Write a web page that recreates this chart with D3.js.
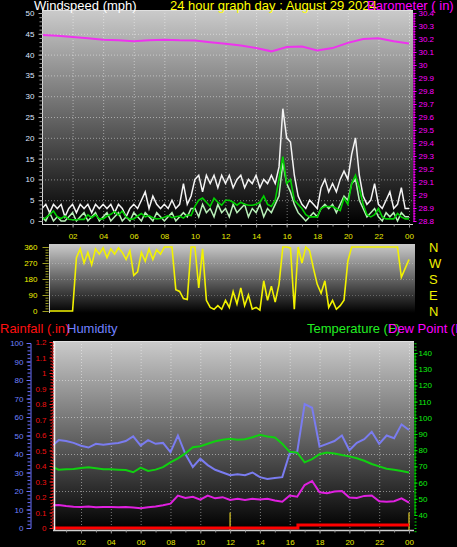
<!DOCTYPE html>
<html><head><meta charset="utf-8">
<script src="https://cdn.jsdelivr.net/npm/d3@7"></script>
<style>
html,body{margin:0;padding:0;background:#000;}
svg{display:block;font-family:"Liberation Sans",Arial,sans-serif;}
</style></head><body>
<svg id="c" width="457" height="547"></svg>
<script>
// ---------------- DATA ----------------
const hourTicks = [2,4,6,8,10,12,14,16,18,20,22,24];
// wind, 15-minute readings from 00:00 to 24:00 (mph)
const windGust = [3,4,2,4,3,4,1,3, 4,2,4,3,4,2,4,3, 4,3,4,2,4,3,1,3, 4,3,5,7,3,6,4,3,
  4,3,5,3,4,9,4,6, 10,11,7,11,9,11,8,11, 9,11,8,10,11,8,10,9, 11,8,10,9,11,9,13,27,
  20,19,11,6,4,3,5,4, 3,8,10,7,9,7,10,12, 10,16,20,11,6,4,5,9, 4,3,5,7,3,4,8,3, 3];
const windSpeed = [1,0,2,0,1,0,0,1, 2,0,1,2,0,1,2,0, 1,2,0,1,2,0,1,0, 2,1,0,2,1,0,2,1,
  0,1,2,0,1,2,1,3, 3,1,4,2,3,1,4,2, 3,1,4,2,3,4,1,3, 2,4,1,3,2,4,6,14,
  9,7,4,2,1,0,1,2, 1,3,4,3,4,2,4,6, 5,9,10,5,3,1,2,3, 1,0,2,1,2,0,2,1, 1];
const windAvg = [0.3,0.8,1.5,2.4,1.0,0.6,1.2,0.4, 0.3,0.3,0.4,0.4,1.5,0.8,1.5,0.5,
  0.5,1.2,1.6,2.3,1.4,2.4,1.0,0.4, 0.5,1.2,1.8,1.0,1.3,0.8,0.5,0.6,
  0.9,1.3,0.8,1.0,1.2,0.7,1.5,1.3, 3.5,5.0,5.5,4.5,3.5,5.5,4.5,3.8,
  5.0,5.0,4.5,3.8,4.5,4.0,3.8,3.8, 4.0,4.5,6.0,4.0,3.5,5.0,10.0,15.5,
  9.0,10.0,5.0,4.0,3.0,1.5,1.0,1.0, 1.0,3.0,3.5,3.5,3.5,3.0,2.5,5.5,
  4.0,9.0,11.0,8.0,4.0,1.5,1.0,1.5, 3.0,1.0,0.5,0.5,0.5,1.8,1.0,0.5, 0.5];
// barometer, hourly (in)
const barometer = [30.23,30.225,30.215,30.205,30.195,30.19,30.183,30.19,30.195,30.19,30.188,30.175,
  30.163,30.15,30.13,30.105,30.138,30.142,30.112,30.13,30.17,30.2,30.205,30.183,30.165];
// wind direction, 15-minute readings (degrees)
const windDir = [0,0,0,0,0,0,0,0, 0,300,350,270,330,260,350,320, 355,300,350,320,355,330,290,340,
  200,220,330,280,350,290,345,320, 360,360,360,120,110,70,65,360, 360,130,350,60,20,10,30,10,
  60,20,110,40,130,30,90,10, 20,5,170,60,140,50,150,360, 360,355,10,360,270,360,340,240,
  150,100,170,20,60,10,30,60, 280,360,360,360,360,360,360,360, 360,360,360,360,360,360,190,240, 290];
// half-hourly readings 00:00 .. 24:00
const humidity = [44,47.5,47,46,44.5,43.5,45.5,45,45.5,46,47,49.5,44.5,47.5,45.5,46,41,50,40,33,37.5,34,31.5,30,
  28.5,29,28.5,30,27.5,26.5,27,27.5,40.5,41,67,65,44,45.5,47,50,42,46,48,52,45.5,50,48.5,56,53];
const temperature = [70,68,68.2,68.4,69,69.4,68.8,68.2,68.3,68,67.8,66.4,69.2,67.2,68,69.5,72.5,75,78,81.8,82.5,84,85.5,86.5,
  87,86.5,86.8,88,89.5,88.5,87.8,84,79,78.5,72.5,74.5,77.5,78.5,78,77,76.2,75,73.5,71.5,70,68.6,68,67.2,66.2];
const dewPoint = [46,46.2,45.5,45.1,45,45.2,44.8,45,45,44.8,45,44.6,44.1,44.8,45.2,46,47,52,50.5,51.3,49.5,52,50.3,51,
  49.3,50,49.3,50,49.5,50,49,48.2,52,51.3,58.5,61,54,53.4,54.5,54.8,50.8,50.5,51.8,52,48.5,48.2,48.5,50.3,47.6];
const rainHours = [0, 16.55, 24];
const rainTotal = [0, 0.02, 0.02];
const markerHours = [12, 24];
const markerRain = [0.1, 0.1];

// ---------------- CHART ----------------
const svg = d3.select("#c");
const defs = svg.append("defs");
const g0 = defs.append("linearGradient").attr("id","bg").attr("x1",0).attr("y1",0).attr("x2",0).attr("y2",1);
g0.append("stop").attr("offset",0).attr("stop-color","#cbcbcb");
g0.append("stop").attr("offset",1).attr("stop-color","#000000");
function clip(id,x,y,w,h){defs.append("clipPath").attr("id",id).append("rect").attr("x",x).attr("y",y).attr("width",w).attr("height",h);}

const fmtHour = h => h===24 ? "00" : String(h).padStart(2,"0");
function styleAxis(sel, col, txt, fs){
  sel.select(".domain").attr("stroke",col);
  sel.selectAll(".tick line").attr("stroke",col);
  sel.selectAll("text").attr("fill",txt).attr("font-size",fs||8).attr("font-family","'Liberation Sans',Arial,sans-serif");
}
const gridStyle = s => s.attr("stroke","rgba(255,255,255,0.45)").attr("stroke-dasharray","1,2").attr("stroke-width",1);

// ===== TOP PANEL =====
const T = {x0:42, x1:413, y0:10, y1:224};
const xTop = d3.scaleLinear().domain([0,24]).range([42,409]);
const yWind = d3.scaleLinear().domain([0,50]).range([221,13]);
const yBaro = d3.scaleLinear().domain([28.8,30.4]).range([221,13]);
svg.append("rect").attr("x",T.x0).attr("y",T.y0).attr("width",T.x1-T.x0).attr("height",T.y1-T.y0).attr("fill","url(#bg)");
clip("ct",T.x0,T.y0,T.x1-T.x0,T.y1-T.y0);
const gt = svg.append("g").attr("clip-path","url(#ct)");
hourTicks.forEach(h=>gridStyle(gt.append("line").attr("x1",xTop(h)+0.5).attr("x2",xTop(h)+0.5).attr("y1",T.y0).attr("y2",T.y1)));
d3.range(5,50,5).forEach(v=>gridStyle(gt.append("line").attr("x1",T.x0).attr("x2",T.x1).attr("y1",yWind(v)+0.5).attr("y2",yWind(v)+0.5)));
const q = (i)=>i*0.25;
gt.append("path").datum(windGust).attr("fill","none").attr("stroke","#f4f4f4").attr("stroke-width",1.5)
  .attr("d",d3.line().x((d,i)=>xTop(q(i))).y(d=>yWind(d)));
gt.append("path").datum(windSpeed).attr("fill","none").attr("stroke","#b9f0b9").attr("stroke-width",1.5)
  .attr("d",d3.line().x((d,i)=>xTop(q(i))).y(d=>yWind(d)));
gt.append("path").datum(windAvg).attr("fill","none").attr("stroke","#00d000").attr("stroke-width",1.6)
  .attr("d",d3.line().x((d,i)=>xTop(q(i))).y(d=>yWind(d)));
gt.append("path").datum(barometer).attr("fill","none").attr("stroke","#ee33ee").attr("stroke-width",2)
  .attr("d",d3.line().x((d,i)=>xTop(i)).y(d=>yBaro(d)));
// borders
svg.append("line").attr("x1",T.x0+0.5).attr("x2",T.x0+0.5).attr("y1",T.y0).attr("y2",T.y1).attr("stroke","#d8d8d8");
svg.append("line").attr("x1",T.x0).attr("x2",T.x1).attr("y1",T.y1+0.5).attr("y2",T.y1+0.5).attr("stroke","#d8d8d8");
svg.append("line").attr("x1",T.x0).attr("x2",T.x1).attr("y1",T.y0+0.5).attr("y2",T.y0+0.5).attr("stroke","#e0e0e0");
// axes
svg.append("g").attr("transform","translate(42.5,0)").call(d3.axisLeft(yWind).tickValues(d3.range(0,51,1)).tickSize(3).tickFormat(""))
  .call(s=>styleAxis(s,"#9a9a9a","#fff")).select(".domain").remove();
svg.append("g").attr("transform","translate(42.5,0)").call(d3.axisLeft(yWind).tickValues(d3.range(0,51,5)).tickSize(4).tickPadding(4))
  .call(s=>styleAxis(s,"#b0b0b0","#dfe6ff")).select(".domain").remove();
const baroTicks = d3.range(288,305).map(v=>v/10);
const baroFmt = v => Math.abs(v-Math.round(v))<1e-6 ? String(Math.round(v)) : v.toFixed(1);
svg.append("g").attr("transform","translate(413.5,0)").call(d3.axisRight(yBaro).tickValues(d3.range(1440,1521).map(v=>v/50)).tickSize(2).tickFormat(""))
  .call(s=>styleAxis(s,"#ff00ff","#ff00ff"));
svg.append("g").attr("transform","translate(413.5,0)").call(d3.axisRight(yBaro).tickValues(baroTicks).tickSize(3).tickPadding(2).tickFormat(baroFmt))
  .call(s=>styleAxis(s,"#ff00ff","#ff00ff")).select(".domain").remove();
svg.append("g").attr("transform",`translate(0,${T.y1+0.5})`).call(d3.axisBottom(xTop).tickValues(d3.range(1,25,1)).tickSize(2).tickFormat(""))
  .call(s=>styleAxis(s,"#909090","#fff")).select(".domain").remove();
svg.append("g").attr("transform",`translate(0,${T.y1+0.5})`).call(d3.axisBottom(xTop).tickValues(hourTicks).tickSize(3).tickPadding(6).tickFormat(fmtHour))
  .call(s=>styleAxis(s,"#909090","#e8e800")).select(".domain").remove();

// ===== DIRECTION PANEL =====
const D = {x0:49, x1:415, y0:244, y1:313};
const yDir = d3.scaleLinear().domain([0,360]).range([311,247]);
svg.append("rect").attr("x",D.x0).attr("y",D.y0).attr("width",D.x1-D.x0).attr("height",D.y1-D.y0).attr("fill","url(#bg)");
clip("cd",D.x0,D.y0,D.x1-D.x0,D.y1-D.y0);
const gd = svg.append("g").attr("clip-path","url(#cd)");
[90,180,270].forEach(v=>gridStyle(gd.append("line").attr("x1",D.x0).attr("x2",D.x1).attr("y1",yDir(v)+0.5).attr("y2",yDir(v)+0.5)).attr("stroke","rgba(255,255,255,0.25)"));
gd.append("path").datum(windDir).attr("fill","none").attr("stroke","#f2f200").attr("stroke-width",1.6)
  .attr("d",d3.line().x((d,i)=>xTop(q(i))).y(d=>yDir(d)));
svg.append("line").attr("x1",D.x0+0.5).attr("x2",D.x0+0.5).attr("y1",D.y0).attr("y2",D.y1).attr("stroke","#d0d0d0");
svg.append("g").attr("transform","translate(48.5,0)").call(d3.axisLeft(yDir).tickValues(d3.range(0,361,15)).tickSize(3).tickFormat(""))
  .call(s=>styleAxis(s,"#a0a020","#ff0")).select(".domain").remove();
svg.append("g").attr("transform","translate(48.5,0)").call(d3.axisLeft(yDir).tickValues([0,90,180,270,360]).tickSize(6).tickPadding(5))
  .call(s=>styleAxis(s,"#a0a020","#f0f000")).select(".domain").remove();
const compass = ["N","E","S","W","N"];
svg.append("g").selectAll("text").data([0,90,180,270,360]).join("text")
  .attr("x",429).attr("y",d=>yDir(d)).attr("dy","0.36em").attr("fill","#f0f000").attr("font-size",13)
  .text((d,i)=>compass[i]);

// ===== BOTTOM PANEL =====
const B = {x0:53, x1:414, y0:341, y1:530};
const xBot = d3.scaleLinear().domain([0,24]).range([51.2,409]);
const yHum = d3.scaleLinear().domain([0,100]).range([528,343]);
const yRain = d3.scaleLinear().domain([0,1.2]).range([528,342]);
const yTemp = d3.scaleLinear().domain([40,140]).range([515,353]);
svg.append("rect").attr("x",B.x0).attr("y",B.y0).attr("width",B.x1-B.x0).attr("height",B.y1-B.y0).attr("fill","url(#bg)");
clip("cb",B.x0,B.y0,B.x1-B.x0,B.y1-B.y0);
const gb = svg.append("g").attr("clip-path","url(#cb)");
hourTicks.forEach(h=>gridStyle(gb.append("line").attr("x1",xBot(h)+0.5).attr("x2",xBot(h)+0.5).attr("y1",B.y0).attr("y2",B.y1)));
[20,40,60,80].forEach(v=>gridStyle(gb.append("line").attr("x1",B.x0).attr("x2",B.x1).attr("y1",yHum(v)+0.5).attr("y2",yHum(v)+0.5)));
const hh = i=>i*0.5;
gb.append("path").datum(humidity).attr("fill","none").attr("stroke","#7a7cf0").attr("stroke-width",2)
  .attr("d",d3.line().x((d,i)=>xBot(hh(i))).y(d=>yHum(d)));
gb.append("path").datum(temperature).attr("fill","none").attr("stroke","#10d010").attr("stroke-width",2)
  .attr("d",d3.line().x((d,i)=>xBot(hh(i))).y(d=>yTemp(d)));
gb.append("path").datum(dewPoint).attr("fill","none").attr("stroke","#e020e0").attr("stroke-width",2)
  .attr("d",d3.line().x((d,i)=>xBot(hh(i))).y(d=>yTemp(d)));
gb.selectAll("line.mk").data(markerHours).join("line").attr("class","mk")
  .attr("x1",d=>xBot(d)).attr("x2",d=>xBot(d)).attr("y1",(d,i)=>yRain(markerRain[i])).attr("y2",B.y1)
  .attr("stroke","#b8a820").attr("stroke-width",1.5);
gb.append("path").datum(rainHours.map((h,i)=>[h,rainTotal[i]])).attr("fill","none").attr("stroke","#ff0000").attr("stroke-width",3)
  .attr("d",d3.line().curve(d3.curveStepAfter).x(d=>xBot(d[0])).y(d=>yRain(d[1])));
svg.append("line").attr("x1",B.x0+1.5).attr("x2",B.x0+1.5).attr("y1",B.y0).attr("y2",B.y1).attr("stroke","#f0f0f0").attr("stroke-width",1.5);
svg.append("line").attr("x1",B.x0).attr("x2",B.x1).attr("y1",B.y1+0.5).attr("y2",B.y1+0.5).attr("stroke","#d0d0d0").attr("stroke-width",1.5);
svg.append("line").attr("x1",B.x0).attr("x2",B.x1).attr("y1",B.y0+0.5).attr("y2",B.y0+0.5).attr("stroke","#e0e0e0");
// humidity axis
svg.append("g").attr("transform","translate(30.5,0)").call(d3.axisLeft(yHum).tickValues(d3.range(0,101,2)).tickSize(3).tickFormat(""))
  .call(s=>styleAxis(s,"#6a70ff","#6a70ff"));
svg.append("g").attr("transform","translate(30.5,0)").call(d3.axisLeft(yHum).tickValues(d3.range(0,101,10)).tickSize(4).tickPadding(3))
  .call(s=>styleAxis(s,"#6a70ff","#7080ff")).select(".domain").remove();
// rain axis
svg.append("g").attr("transform","translate(52.5,0)").call(d3.axisLeft(yRain).tickValues(d3.range(0,61).map(v=>v/50)).tickSize(2).tickFormat(""))
  .call(s=>styleAxis(s,"#ff2020","#ff2020")).select(".domain").attr("stroke-dasharray","2,1");
svg.append("g").attr("transform","translate(52.5,0)").call(d3.axisLeft(yRain).tickValues(d3.range(0,13).map(v=>v/10)).tickSize(3).tickPadding(3).tickFormat(d3.format("")))
  .call(s=>styleAxis(s,"#ff2020","#ee1010")).select(".domain").remove();
// temperature axis
svg.append("g").attr("transform","translate(414.5,0)").call(d3.axisRight(yTemp).tickValues(d3.range(30,148,2)).tickSize(2).tickFormat(""))
  .call(s=>styleAxis(s,"#00e000","#00e000"));
svg.append("g").attr("transform","translate(414.5,0)").call(d3.axisRight(yTemp).tickValues(d3.range(40,141,10)).tickSize(3).tickPadding(1))
  .call(s=>styleAxis(s,"#00e000","#10ee10")).select(".domain").remove();
svg.append("g").attr("transform",`translate(0,${B.y1+0.5})`).call(d3.axisBottom(xBot).tickValues(d3.range(1,25,1)).tickSize(2).tickFormat(""))
  .call(s=>styleAxis(s,"#909090","#fff")).select(".domain").remove();
svg.append("g").attr("transform",`translate(0,${B.y1+0.5})`).call(d3.axisBottom(xBot).tickValues(hourTicks).tickSize(3).tickPadding(6).tickFormat(fmtHour))
  .call(s=>styleAxis(s,"#909090","#e8e800")).select(".domain").remove();

// ===== TITLES =====
const T13 = (x,y,txt,col)=>svg.append("text").attr("x",x).attr("y",y).attr("fill",col).attr("font-size",13).text(txt);
T13(34,9.5,"Windspeed (mph)","#ffffff");
T13(170,9.5,"24 hour graph day : August 29 2024","#ffff00");
T13(367,9.5,"Barometer ( in)","#ff00ff");
T13(0,333,"Rainfall (.in)","#ff1010");
T13(67,333,"Humidity","#7080ff");
T13(307,333,"Temperature (F)","#22ee22");
T13(388,333,"Dew Point (F)","#ff00ff");
</script>
</body></html>
